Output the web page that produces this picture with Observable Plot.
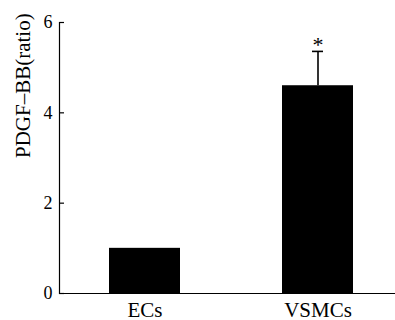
<!DOCTYPE html>
<html>
<head>
<meta charset="utf-8">
<script src="https://cdn.jsdelivr.net/npm/d3@7"></script>
<script src="https://cdn.jsdelivr.net/npm/@observablehq/plot@0.6"></script>
<style>
  html, body { margin: 0; padding: 0; background: #fff; }
</style>
</head>
<body>
<div id="chart"></div>
<script>
const categories = ["ECs", "VSMCs"];
const values = [1.0, 4.6];
const errors = [0, 0.76];
const marks = ["", "*"];
const yTicks = [0, 2, 4, 6];
const yLabel = "PDGF–BB(ratio)";

const data = categories.map((c, i) => ({cat: c, value: values[i], err: errors[i], mark: marks[i]}));
const withErr = data.filter(d => d.err > 0);

const W = 395, H = 320, ML = 59, MR = 0;

const plot = Plot.plot({
  width: W,
  height: H,
  marginLeft: ML,
  marginRight: MR,
  marginTop: 22,
  marginBottom: 27,
  style: {fontFamily: "'Liberation Serif', 'Times New Roman', serif", fontSize: "18px", background: "#fff", color: "#000"},
  x: {domain: categories, range: [109.3, 353.3], paddingInner: 0.5896, paddingOuter: 0, label: null},
  y: {domain: [0, 6], label: null},
  marks: [
    Plot.barY(data, {x: "cat", y: "value", fill: "#000"}),
    Plot.ruleX(withErr, {x: "cat", y1: "value", y2: d => d.value + d.err, stroke: "#000", strokeWidth: 1.6}),
    Plot.tickY(withErr, {x: "cat", y: d => d.value + d.err, stroke: "#000", strokeWidth: 1.6, insetLeft: 30, insetRight: 30}),
    Plot.text(withErr, {x: "cat", y: d => d.value + d.err, text: "mark", dy: -6, fontSize: 22}),
    Plot.frame({anchor: "left", stroke: "#000", strokeWidth: 1.2}),
    Plot.ruleY([0], {stroke: "#000", strokeWidth: 1.2}),
    Plot.ruleY(yTicks, {stroke: "#000", strokeWidth: 1.2, insetRight: W - MR - ML - 5}),
    Plot.axisY({ticks: yTicks, tickFormat: d3.format("d"), tickSize: 0, tickPadding: 7, fontSize: 18, label: null}),
    Plot.axisX({tickSize: 0, tickPadding: 9, fontSize: 21, label: null}),
    Plot.text([yLabel], {frameAnchor: "left", rotate: -90, dx: -36, fontSize: 21})
  ]
});
document.getElementById("chart").appendChild(plot);
</script>
</body>
</html>
